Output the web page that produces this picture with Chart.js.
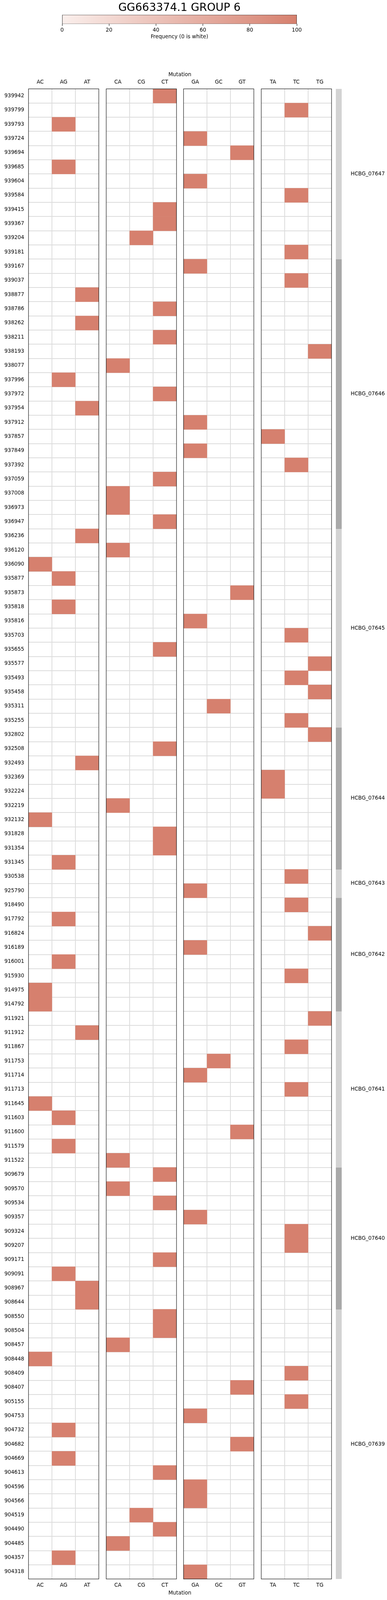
<!DOCTYPE html>
<html><head><meta charset="utf-8">
<script src="https://cdn.jsdelivr.net/npm/chart.js@4.4.1/dist/chart.umd.min.js"></script>
<style>
html,body{margin:0;padding:0;background:#fff;}
#wrap{position:relative;width:991px;height:4339px;overflow:hidden;background:#fff;}
#wrap canvas{position:absolute;}
</style></head><body>
<div id="wrap"></div>
<script>
const chartTitle = 'GG663374.1 GROUP 6';
const colorbarLabel = 'Frequency (0 is white)';
const axisLabel = 'Mutation';
const colorbarTicks = [0, 20, 40, 60, 80, 100];

const positions = [
'939942','939799','939793','939724','939694','939685','939604','939584','939415','939367',
'939204','939181','939167','939037','938877','938786','938262','938211','938193','938077',
'937996','937972','937954','937912','937857','937849','937392','937059','937008','936973',
'936947','936236','936120','936090','935877','935873','935818','935816','935703','935655',
'935577','935493','935458','935311','935255','932802','932508','932493','932369','932224',
'932219','932132','931828','931354','931345','930538','925790','918490','917792','916824',
'916189','916001','915930','914975','914792','911921','911912','911867','911753','911714',
'911713','911645','911603','911600','911579','911522','909679','909570','909534','909357',
'909324','909207','909171','909091','908967','908644','908550','908504','908457','908448',
'908409','908407','905155','904753','904732','904682','904669','904613','904596','904566',
'904519','904490','904485','904357','904318'];

const mutations = [
'CT','TC','AG','GA','GT','AG','GA','TC','CT','CT',
'CG','TC','GA','TC','AT','CT','AT','CT','TG','CA',
'AG','CT','AT','GA','TA','GA','TC','CT','CA','CA',
'CT','AT','CA','AC','AG','GT','AG','GA','TC','CT',
'TG','TC','TG','GC','TC','TG','CT','AT','TA','TA',
'CA','AC','CT','CT','AG','TC','GA','TC','AG','TG',
'GA','AG','TC','AC','AC','TG','AT','TC','GC','GA',
'TC','AC','AG','GT','AG','CA','CT','CA','CT','GA',
'TC','TC','CT','AG','AT','AT','CT','CT','CA','AC',
'TC','GT','TC','GA','AG','GT','AG','CT','GA','GA',
'CG','CT','CA','AG','GA'];

const frequency = [
100,100,100,100,100,100,100,100,100,100,
100,100,100,100,100,100,100,100,100,100,
100,100,100,100,100,100,100,100,100,100,
100,100,100,100,100,100,100,100,100,100,
100,100,100,100,100,100,100,100,100,100,
100,100,100,100,100,100,100,100,100,100,
100,100,100,100,100,100,100,100,100,100,
100,100,100,100,100,100,100,100,100,100,
100,100,100,100,100,100,100,100,100,100,
100,100,100,100,100,100,100,100,100,100,
100,100,100,100,100];

const mutationGroups = [
  ['AC','AG','AT'],
  ['CA','CG','CT'],
  ['GA','GC','GT'],
  ['TA','TC','TG']
];

const geneNames = ['HCBG_07647','HCBG_07646','HCBG_07645','HCBG_07644','HCBG_07643','HCBG_07642','HCBG_07641','HCBG_07640','HCBG_07639'];
const geneStartRow = [0, 12, 31, 45, 55, 57, 65, 76, 86];
const geneEndRow   = [12, 31, 45, 55, 57, 65, 76, 86, 105];

// ---------- styling / layout ----------
const FONT = 'DejaVu Sans';
const tickFont = {family: FONT, size: 13.3};
const HALF_LH = 13.3 * 1.2 / 2;
const TITLE_SIZE = 28;
const LOW = [250, 239, 236];
const HIGH = [214, 128, 110];
const GRID = 'rgb(220,220,220)';
const BAND_LIGHT = '#d3d3d3';
const BAND_DARK = '#a9a9a9';
Chart.defaults.font.family = FONT;
Chart.defaults.color = '#000';

// the page is designed for 4339px; fit vertically into the real viewport if it is shorter
const PAGE_H = 4339;
const viewH = window.innerHeight || PAGE_H;
const sy = Math.min(1, viewH / PAGE_H);
const Y = (v) => v * sy;
document.getElementById('wrap').style.height = Math.round(Math.min(PAGE_H, viewH)) + 'px';

function freqColor(f) {
  const t = f / 100;
  const c = LOW.map((l, i) => Math.round(l + (HIGH[i] - l) * t));
  return 'rgb(' + c.join(',') + ')';
}

const wrap = document.getElementById('wrap');
function makeCanvas(left, top, w, h) {
  const c = document.createElement('canvas');
  w = Math.round(w); h = Math.round(h);
  c.width = w; c.height = h;
  c.style.left = left + 'px'; c.style.top = top + 'px';
  c.style.width = w + 'px'; c.style.height = h + 'px';
  wrap.appendChild(c);
  return c;
}

const base = {
  responsive: false, animation: false, events: [],
  plugins: {legend: {display: false}, tooltip: {enabled: false}}
};

// ---------- colorbar + title ----------
(function () {
  const h = Math.round(Y(101) + HALF_LH + 4);
  const cv = makeCanvas(0, 0, 991, h);
  const tTop = Math.max(0, Y(22) - TITLE_SIZE * 0.6);
  const tBot = Math.max(0, Y(40) - tTop - TITLE_SIZE * 1.2);
  new Chart(cv, {
    type: 'bar',
    data: {labels: ['freq'], datasets: [{
      data: [[0, 100]],
      barPercentage: 1, categoryPercentage: 1,
      borderColor: '#000', borderWidth: 1, borderSkipped: false,
      backgroundColor: (c) => {
        const ca = c.chart.chartArea;
        if (!ca) return freqColor(100);
        const g = c.chart.ctx.createLinearGradient(ca.left, 0, ca.right, 0);
        g.addColorStop(0, freqColor(0));
        g.addColorStop(1, freqColor(100));
        return g;
      }
    }]},
    options: Object.assign({}, base, {
      indexAxis: 'y',
      layout: {padding: {left: 159, right: 231}},
      plugins: {
        legend: {display: false}, tooltip: {enabled: false},
        title: {display: true, text: chartTitle, fullSize: false, color: '#000',
          font: {family: FONT, size: TITLE_SIZE, weight: 'normal'}, padding: {top: tTop, bottom: tBot}}
      },
      scales: {
        y: {display: false},
        x: {type: 'linear', min: 0, max: 100, position: 'bottom',
          afterBuildTicks: (s) => { s.ticks = colorbarTicks.map(v => ({value: v})); },
          ticks: {font: tickFont, color: '#000', padding: Math.max(0, Y(82) - Y(65) - 5 - HALF_LH)},
          grid: {drawOnChartArea: false, drawTicks: true, tickLength: 5, color: '#000', lineWidth: 1},
          border: {display: false},
          title: {display: true, text: colorbarLabel, font: tickFont, color: '#000', padding: {top: 0, bottom: 4}},
          afterFit: (s) => { s.height = h - Y(65); }
        }
      }
    })
  });
})();

// ---------- "Mutation" axis titles ----------
(function () {
  const top = Y(203) - 4 - HALF_LH;
  const bottom = Y(4321) + 4 + HALF_LH;
  const cv = makeCanvas(73, top, 775, bottom - top);
  const t = {display: true, text: axisLabel, font: tickFont, color: '#000', padding: {top: 4, bottom: 4}};
  new Chart(cv, {
    type: 'scatter',
    data: {datasets: []},
    options: Object.assign({}, base, {
      scales: {
        x: {type: 'linear', position: 'top', min: 0, max: 1, ticks: {display: false}, grid: {display: false}, border: {display: false}, title: t},
        x2: {type: 'linear', position: 'bottom', min: 0, max: 1, ticks: {display: false}, grid: {display: false}, border: {display: false}, title: t},
        y: {display: false}
      }
    })
  });
})();

// ---------- heatmap panels ----------
const AXIS_H = 40;
const GRID_TOP = Y(241), GRID_BOT = Y(4282);
const CANVAS_TOP = Math.round(GRID_TOP - AXIS_H);
const TOP_AXIS_H = GRID_TOP - CANVAS_TOP;
const CANVAS_H = Math.round(GRID_BOT + AXIS_H) - CANVAS_TOP;
const BOTTOM_AXIS_H = CANVAS_TOP + CANVAS_H - GRID_BOT;
const TOP_PAD = GRID_TOP - Y(223) - HALF_LH;
const BOT_PAD = Y(4299) - GRID_BOT - HALF_LH;
const panelLeft = [73, 272, 470, 669];
const panelW = 180;
const Y_AXIS_W = 80;

const framePlugin = {
  id: 'panelFrame',
  afterDraw(chart) {
    const {ctx, chartArea: a} = chart;
    ctx.save();
    ctx.strokeStyle = '#000';
    ctx.lineWidth = 1.1;
    ctx.strokeRect(a.left, a.top, a.right - a.left, a.bottom - a.top);
    ctx.restore();
  }
};
const innerGrid = (c) => (c.type !== 'tick' || c.index === 0) ? 'rgba(0,0,0,0)' : GRID;

mutationGroups.forEach((cols, p) => {
  const cv = makeCanvas(panelLeft[p] - Y_AXIS_W, CANVAS_TOP, Y_AXIS_W + panelW + 4, CANVAS_H);
  const cells = positions.map((pos, i) => {
    const c = cols.indexOf(mutations[i]);
    return c < 0 ? null : [c, c + 1];
  });
  const colors = frequency.map(f => freqColor(f));
  const xAxis = (position, pad, h) => ({
    type: 'category', labels: cols, position: position, offset: true, z: 1,
    grid: {offset: true, color: innerGrid, lineWidth: 2, drawTicks: false},
    border: {display: false},
    ticks: {padding: pad, font: tickFont, color: '#000'},
    afterFit: (s) => { s.height = h; }
  });
  new Chart(cv, {
    type: 'bar',
    data: {labels: positions, datasets: [{
      data: cells, backgroundColor: colors, xAxisID: 'x', yAxisID: 'y',
      barPercentage: 1, categoryPercentage: 1, borderWidth: 0, borderSkipped: false
    }]},
    options: Object.assign({}, base, {
      indexAxis: 'y',
      layout: {padding: {right: 4}},
      scales: {
        x: {type: 'linear', min: 0, max: 3, display: false},
        xt: xAxis('top', TOP_PAD, TOP_AXIS_H),
        xb: xAxis('bottom', BOT_PAD, BOTTOM_AXIS_H),
        y: {type: 'category', position: 'left', offset: true, z: 1,
          grid: {offset: true, color: innerGrid, lineWidth: 2, drawTicks: false},
          border: {display: false},
          ticks: {display: p === 0, padding: 11, autoSkip: false, font: tickFont, color: '#000'},
          afterFit: (s) => { s.width = Y_AXIS_W; }
        }
      }
    }),
    plugins: [framePlugin]
  });
});

// ---------- gene band ----------
(function () {
  const cv = makeCanvas(848, CANVAS_TOP, 143, CANVAS_H);
  const datasets = geneNames.map((g, i) => ({
    label: g,
    data: [[geneStartRow[i], geneEndRow[i]]],
    backgroundColor: i % 2 === 0 ? BAND_LIGHT : BAND_DARK,
    borderWidth: 0, barPercentage: 1, categoryPercentage: 1, grouped: false,
    yAxisID: 'y'
  }));
  new Chart(cv, {
    type: 'bar',
    data: {labels: ['gene'], datasets},
    options: Object.assign({}, base, {
      layout: {padding: {top: TOP_AXIS_H, bottom: BOTTOM_AXIS_H, left: 12}},
      scales: {
        x: {type: 'category', display: false},
        y: {type: 'linear', min: 0, max: positions.length, reverse: true, display: false},
        g: {type: 'linear', position: 'right', min: 0, max: positions.length, reverse: true,
          afterBuildTicks: (s) => { s.ticks = geneNames.map((n, i) => ({value: (geneStartRow[i] + geneEndRow[i]) / 2})); },
          ticks: {autoSkip: false, padding: 15, font: tickFont, color: '#000', callback: (v, i) => geneNames[i]},
          grid: {display: false}, border: {display: false},
          afterFit: (s) => { s.width = 116; }
        }
      }
    })
  });
})();
</script>
</body></html>
